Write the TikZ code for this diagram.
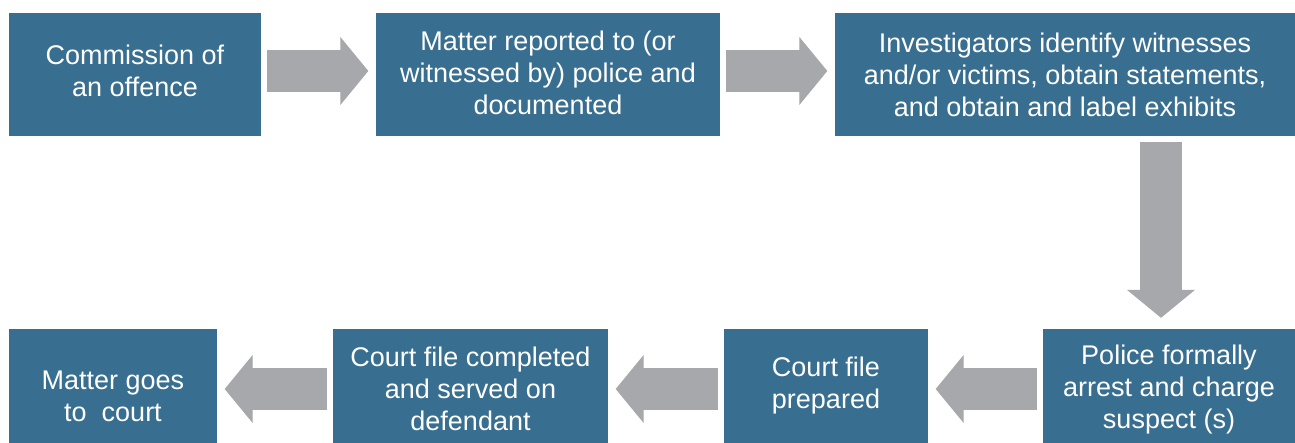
\documentclass[tikz,border=0pt]{standalone}
\usepackage{fontspec}
\setmainfont{Liberation Sans}
\usepackage{tikz}
\usetikzlibrary{arrows.meta}

\definecolor{stepblue}{RGB}{56,110,143}
\definecolor{flowgray}{RGB}{167,168,172}

\begin{document}
\begin{tikzpicture}[x=1pt, y=1pt,
	stage/.style={fill=stepblue, inner sep=0pt},
	caption/.style={text=white, inner sep=0pt, align=center,
		font=\fontsize{27}{32}\selectfont},
	flow/.style={draw=flowgray, line width=42pt, shorten <=6pt, shorten >=7.5pt,
		-{Triangle[length=28pt, width=68pt, line width=1pt]}}]
\useasboundingbox (0,0) rectangle (1295,-443);

% top row
\node[stage, minimum width=252pt, minimum height=123pt,
	label={[caption, yshift=3.5pt]center:Commission of\\an offence}] (c1) at (135,-74.5) {};
\node[stage, minimum width=344pt, minimum height=123pt,
	label={[caption, yshift=1.5pt]center:Matter reported to (or\\witnessed by) police and\\documented}] (c2) at (548,-74.5) {};
\node[stage, minimum width=460pt, minimum height=123pt,
	label={[caption]center:Investigators identify witnesses\\and/or victims, obtain statements,\\and obtain and label exhibits}] (c3) at (1065,-74.5) {};

% bottom row
\node[stage, minimum width=252pt, minimum height=114pt,
	label={[caption, yshift=-3.5pt]center:Police formally\\arrest and charge\\suspect (s)}] (c4) at (1169,-386) {};
\node[stage, minimum width=204pt, minimum height=114pt,
	label={[caption]center:Court file\\prepared}] (c5) at (826,-386) {};
\node[stage, minimum width=275pt, minimum height=114pt,
	label={[caption, yshift=-2.5pt]center:Court file completed\\and served on\\defendant}] (c6) at (470.5,-386) {};
\node[stage, minimum width=208pt, minimum height=114pt,
	label={[caption, yshift=-10pt]center:Matter goes\\to\ \ court}] (c7) at (113,-386) {};

\coordinate (dn) at (1161,0);

\draw[flow] ([yshift=3.5pt]c1.east) -- ([yshift=3.5pt]c2.west);
\draw[flow] ([yshift=3.5pt]c2.east) -- ([yshift=3.5pt]c3.west);
\draw[flow, shorten >=11pt] (c3.south -| dn) -- (c4.north -| dn);
\draw[flow] ([yshift=-3pt]c4.west) -- ([yshift=-3pt]c5.east);
\draw[flow] ([yshift=-3pt]c5.west) -- ([yshift=-3pt]c6.east);
\draw[flow] ([yshift=-3pt]c6.west) -- ([yshift=-3pt]c7.east);
\end{tikzpicture}
\end{document}
